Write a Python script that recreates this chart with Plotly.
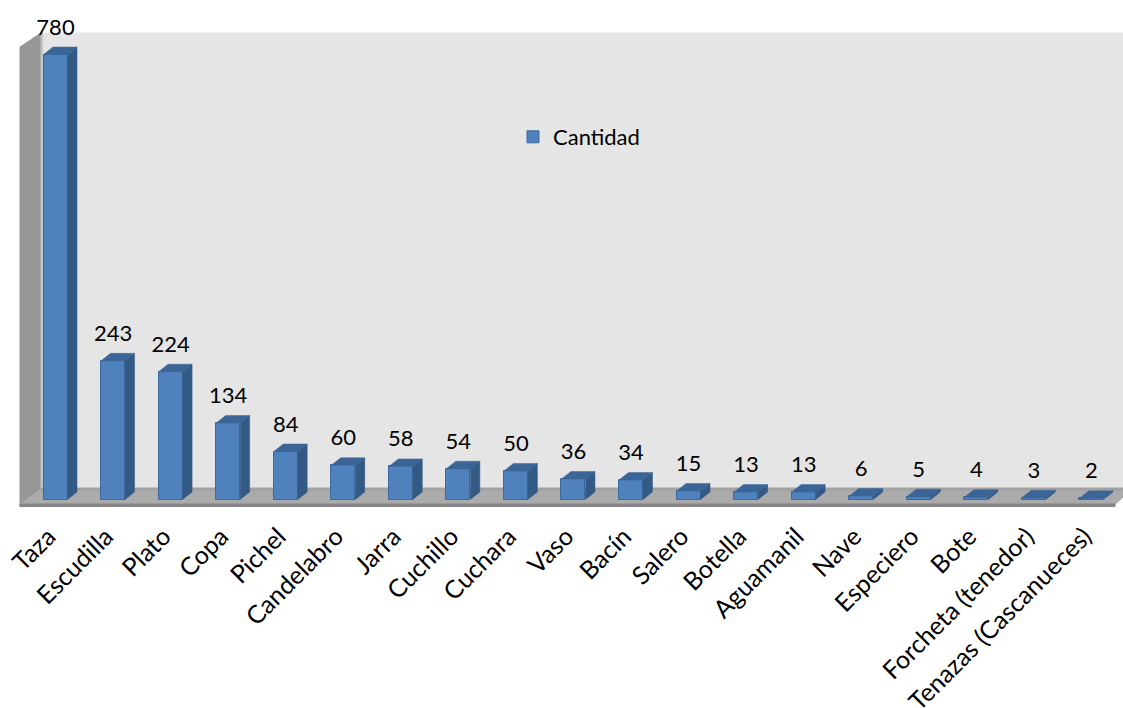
import plotly.graph_objects as go

categories = ["Taza", "Escudilla", "Plato", "Copa", "Pichel", "Candelabro", "Jarra", "Cuchillo",
              "Cuchara", "Vaso", "Bacín", "Salero", "Botella", "Aguamanil", "Nave", "Especiero",
              "Bote", "Forcheta (tenedor)", "Tenazas (Cascanueces)"]
cantidad = [780, 243, 224, 134, 84, 60, 58, 54, 50, 36, 34, 15, 13, 13, 6, 5, 4, 3, 2]

W, H = 1123, 708
PLOT_BOTTOM = 507
X0_PX, STEP_PX = 55.5, 57.55
Y0_PX, UNIT_PX = 499.5, 0.5705
BAR_PX = 24.0
DX_PX, DY_PX = 9.5, 7.5
FONT = "Lato"
FS = 22
TICK_FS = 25

positions = list(range(len(categories)))
xr = [(0 - X0_PX) / STEP_PX, (W - X0_PX) / STEP_PX]
yr = [(Y0_PX - PLOT_BOTTOM) / UNIT_PX, Y0_PX / UNIT_PX]
hw = BAR_PX / STEP_PX / 2
dx = DX_PX / STEP_PX
dy = DY_PX / UNIT_PX


def px_path(pts):
    def cx(p):
        return (p - X0_PX) / STEP_PX
    def cy(p):
        return (Y0_PX - p) / UNIT_PX
    return "M" + "L".join(f"{cx(a):.4f},{cy(b):.3f}" for a, b in pts) + "Z"


def backdrop(pts, color, line=None):
    return dict(type="path", path=px_path(pts), xref="x", yref="y", layer="below",
                fillcolor=color, line=dict(color=line or color, width=1))


shapes = [
    backdrop([(41, 33), (1123, 33), (1123, 489), (41, 489)], "#E5E5E5"),
    backdrop([(20, 47), (41, 33), (41, 489), (20, 505)], "#969696"),
    backdrop([(41, 33), (42.5, 33), (42.5, 489), (41, 489)], "#C4C4C4"),
    backdrop([(20, 504.5), (41, 489), (1123, 489), (1123, 497), (1115, 504.5)], "#ABABAB"),
    backdrop([(41, 488), (1123, 488), (1123, 490), (41, 490)], "#A2A2A2"),
    backdrop([(20, 504), (1115, 504), (1115, 507), (20, 507)], "#858585"),
]

side_x, side_y, top_x, top_y = [], [], [], []
for p, v in zip(positions, cantidad):
    side_x += [p + hw, p + hw + dx, p + hw + dx, p + hw, p + hw, None]
    side_y += [0, dy, v + dy, v, 0, None]
    top_x += [p - hw, p + hw, p + hw + dx, p - hw + dx, p - hw, None]
    top_y += [v, v, v + dy, v + dy, v, None]

fig = go.Figure()
fig.add_trace(go.Bar(x=positions, y=cantidad, width=BAR_PX / STEP_PX, name="Cantidad",
                     marker=dict(color="#4F81BD", line=dict(color="#3A6A9F", width=1)),
                     hoverinfo="skip"))
fig.add_trace(go.Scatter(x=side_x, y=side_y, mode="lines", fill="toself", fillcolor="#335A85",
                         line=dict(color="#335A85", width=0.5), showlegend=False, hoverinfo="skip"))
fig.add_trace(go.Scatter(x=top_x, y=top_y, mode="lines", fill="toself", fillcolor="#3B6497",
                         line=dict(color="#3B6497", width=0.5), showlegend=False, hoverinfo="skip"))
fig.add_trace(go.Scatter(x=positions, y=[v + 25.5 / UNIT_PX for v in cantidad], mode="text",
                         text=[str(v) for v in cantidad], textposition="middle center",
                         textfont=dict(family=FONT, size=FS, color="#000000"),
                         cliponaxis=False, showlegend=False, hoverinfo="skip"))

fig.update_layout(
    width=W, height=H, autosize=False,
    margin=dict(l=0, r=0, t=0, b=H - PLOT_BOTTOM, pad=0),
    paper_bgcolor="#FFFFFF", plot_bgcolor="rgba(0,0,0,0)",
    shapes=shapes,
    showlegend=True,
    legend=dict(x=513 / W, y=1 - 116 / PLOT_BOTTOM, xanchor="left", yanchor="top",
                bgcolor="rgba(0,0,0,0)", borderwidth=0,
                font=dict(family=FONT, size=FS, color="#000000"),
                itemwidth=30),
    xaxis=dict(range=xr, tickmode="array", tickvals=positions, ticktext=categories,
               tickangle=-45, ticks="outside", ticklen=4, tickcolor="rgba(0,0,0,0)",
               ticklabelshift=-7,
               tickfont=dict(family=FONT, size=TICK_FS, color="#000000"),
               showgrid=False, zeroline=False, showline=False, automargin=False),
    yaxis=dict(range=yr, visible=False, showgrid=False, zeroline=False, automargin=False),
    bargap=0,
)

fig.write_html("out.html", config={"displayModeBar": False},
               post_script="document.body.style.margin='0';document.body.style.overflow='hidden';")
